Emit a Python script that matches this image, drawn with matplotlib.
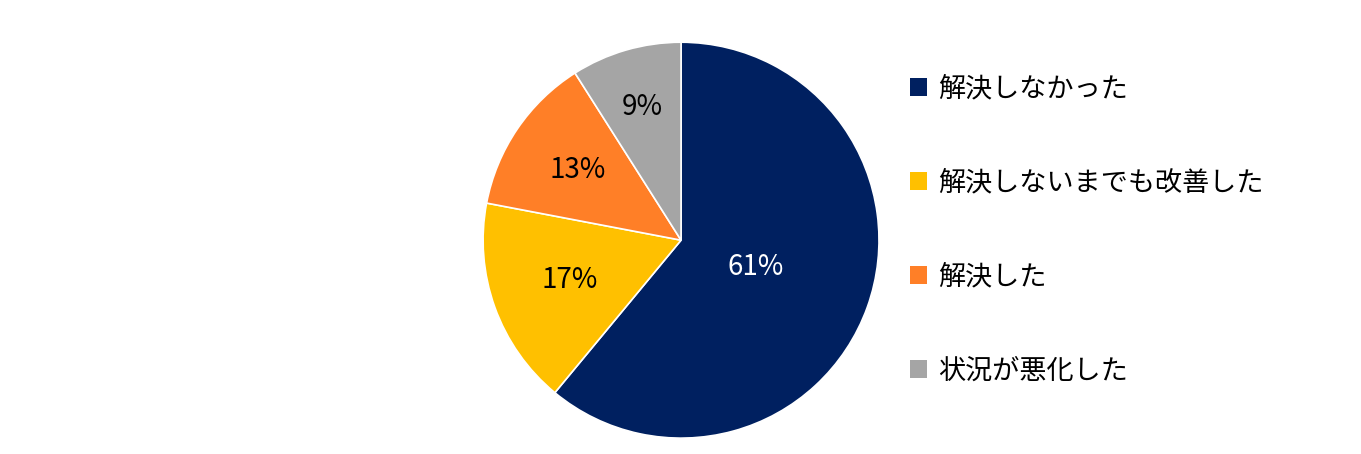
import matplotlib.pyplot as plt
from matplotlib.patches import Patch
import numpy as np

plt.rcParams['font.family'] = ['Noto Sans CJK JP', 'DejaVu Sans']

# Data
labels = ['解決しなかった', '解決しないまでも改善した', '解決した', '状況が悪化した']
values = [61, 17, 13, 9]
colors = ['#002060', '#FFC000', '#FF7F27', '#A5A5A5']
text_colors = ['white', 'black', 'black', 'black']
label_dist = [0.40, 0.60, 0.63, 0.70]

fig = plt.figure(figsize=(13.61, 4.54), dpi=100)
ax = fig.add_axes([0.5004 - 0.1455, 0.471 - 0.436, 0.291, 0.872])

wedges, _ = ax.pie(values, colors=colors, startangle=90, counterclock=False,
                   wedgeprops=dict(linewidth=1.2, edgecolor='white'))
ax.set_aspect('equal')
ax.set_xlim(-1, 1)
ax.set_ylim(-1, 1)

# Percent labels
for w, v, c, d in zip(wedges, values, text_colors, label_dist):
    ang = np.deg2rad((w.theta1 + w.theta2) / 2)
    ax.text(d * np.cos(ang), d * np.sin(ang), f'{v}%', ha='center', va='center',
            fontsize=20, color=c)

handles = [Patch(facecolor=c, edgecolor='none') for c in colors]
fig.legend(handles, labels, loc='center left', bbox_to_anchor=(910 / 1361, (454 - 230) / 454),
           frameon=False, fontsize=19.5, handlelength=0.64, handleheight=0.64,
           handletextpad=0.4, labelspacing=2.47, borderpad=0, borderaxespad=0)

plt.savefig('out.png', dpi=100)
